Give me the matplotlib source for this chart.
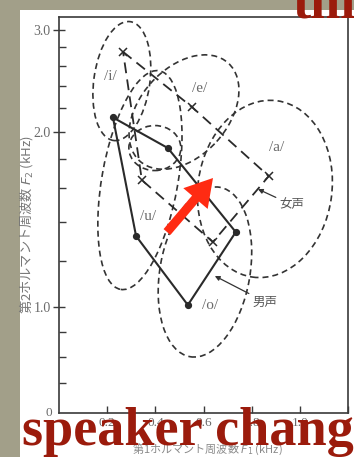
import numpy as np
import matplotlib
matplotlib.use("Agg")
import matplotlib.pyplot as plt
import matplotlib.patches as mpatches
import matplotlib.transforms as mtransforms

# ---------------- data (kHz) ----------------
vowels = ["/i/", "/e/", "/a/", "/o/", "/u/"]
male_f1 = [0.224, 0.452, 0.734, 0.535, 0.320]
male_f2 = [2.12, 1.878, 1.346, 1.008, 1.325]
female_f1 = [0.266, 0.552, 0.871, 0.639, 0.344]
female_f2 = [2.75, 2.21, 1.68, 1.294, 1.654]
poly_order = [0, 1, 2, 3, 4, 0]

label_f1 = [0.212, 0.585, 0.905, 0.627, 0.369]
label_f2 = [2.49, 2.38, 1.88, 1.008, 1.43]

# centres of the dashed distribution regions (i, e, a, o, u, extra)
region_f1 = [0.261, 0.519, 0.855, 0.606, 0.336, 0.398]
region_f2 = [2.449, 2.166, 1.597, 1.149, 1.654, 1.878]

y_major = [1.0, 2.0, 3.0]
y_major_labels = ["1.0", "2.0", "3.0"]
y_minor = [0.7, 0.8, 0.9, 1.2, 1.4, 1.6, 1.8, 2.2, 2.4, 2.6, 2.8]
x_ticks = [0.2, 0.4, 0.6, 0.8, 1.0, 1.2]
x_labels = ["0.2", "0.4", "0.6", "0.8", "1.0", ""]

female_label = "女声"
male_label = "男声"
female_note = (0.917, 1.498, 0.826, 1.596)   # text F1, F2, target F1, F2
male_note = (0.805, 1.02, 0.647, 1.131)

# ---------------- styles ----------------
# region shapes in pixels (width, height, angle)
region_shape = [(56, 120, -8), (132, 88, 48), (134, 178, -8),
                (90, 172, -10), (76, 222, -10), (52, 45, 0)]

W, H, DPI = 354, 457, 100
fig = plt.figure(figsize=(W / DPI, H / DPI), dpi=DPI)
fig.patch.set_facecolor("#a29f89")
page = mpatches.Rectangle((20 / W, 0), 1, 1 - 10 / H, transform=fig.transFigure,
                          facecolor="white", edgecolor="none", zorder=-5)
fig.patches.append(page)

ax = fig.add_axes([59 / W, 44 / H, 289 / W, 396 / H])
ax.set_facecolor("white")
ax.set_zorder(1)

LN10 = np.log(10.0)


def fwd(f):
    f = np.asarray(f, dtype=float)
    with np.errstate(divide="ignore", invalid="ignore"):
        return np.where(f >= 1, np.log10(np.maximum(f, 1e-9)), (f - 1) / LN10)


def inv(u):
    u = np.asarray(u, dtype=float)
    return np.where(u >= 0, 10 ** np.minimum(u, 10), 1 + u * LN10)


ax.set_yscale("function", functions=(fwd, inv))
ax.set_xlim(0, 1.2)
ax.set_ylim(0.58, 3.157)

ink = "#2a2a2a"
grey = "#6a6a6a"

for s in ax.spines.values():
    s.set_color("#3a3a3a")
    s.set_linewidth(1.2)

ax.set_yticks(y_major)
ax.set_yticklabels(y_major_labels)
ax.set_yticks(y_minor, minor=True)
ax.yaxis.set_minor_formatter(matplotlib.ticker.NullFormatter())
ax.set_xticks(x_ticks)
ax.set_xticklabels(x_labels)
ax.tick_params(axis="y", which="major", direction="inout", length=8, width=1,
               color="#3a3a3a", labelsize=10, labelcolor=grey, pad=2)
ax.tick_params(axis="y", which="minor", direction="in", length=5, width=1,
               color="#3a3a3a")
ax.tick_params(axis="x", which="major", direction="in", length=5, width=1,
               color="#3a3a3a", labelsize=9.5, labelcolor=grey, pad=3)
for lab in ax.get_xticklabels() + ax.get_yticklabels():
    lab.set_family("Liberation Serif")
ax.text(-0.025, 0.0, "0", transform=ax.transAxes, ha="right", va="center",
        fontsize=9.5, color=grey, family="Liberation Serif")

# dashed distribution regions
for f1, f2, (w, h, ang) in zip(region_f1, region_f2, region_shape):
    tr = fig.dpi_scale_trans + mtransforms.ScaledTranslation(f1, f2, ax.transData)
    e = mpatches.Ellipse((0, 0), w / DPI, h / DPI, angle=ang, transform=tr,
                         fill=False, edgecolor="#333333", linewidth=1.2,
                         linestyle=(0, (3.6, 2.4)), zorder=2)
    ax.add_patch(e)

# male (solid) and female (dashed) polygons
ax.plot([male_f1[i] for i in poly_order], [male_f2[i] for i in poly_order],
        color=ink, lw=1.5, zorder=3)
ax.plot(male_f1, male_f2, "o", color=ink, ms=4.2, zorder=4)
ax.plot([female_f1[i] for i in poly_order], [female_f2[i] for i in poly_order],
        color=ink, lw=1.3, linestyle=(0, (6, 3.5)), zorder=3)
ax.plot(female_f1, female_f2, "x", color=ink, ms=6, mew=1.1, zorder=4)

for name, x, y in zip(vowels, label_f1, label_f2):
    ax.text(x, y, name, ha="center", va="center", fontsize=11, color=grey,
            family="Liberation Serif", zorder=5)

for txt, note in ((female_label, female_note), (male_label, male_note)):
    ax.annotate(txt, xy=(note[2], note[3]), xytext=(note[0], note[1]),
                ha="left", va="center", fontsize=9, color="#555555",
                family=["Noto Sans CJK JP", "DejaVu Sans"],
                arrowprops=dict(arrowstyle="-|>", color="#333333", lw=0.9,
                                mutation_scale=7, shrinkA=1, shrinkB=0),
                zorder=5)

# axis titles
fig.text(26 / W, 1 - 225 / H, "第2ホルマント周波数 $F_2$ (kHz)", rotation=90,
         ha="center", va="center", fontsize=9.5, color="#777777",
         family=["Noto Sans CJK JP", "DejaVu Sans"])
fig.text(207 / W, 1 - 449 / H, "第1ホルマント周波数 $F_1$ (kHz)",
         ha="center", va="center", fontsize=8, color="#8a8a8a",
         family=["Noto Sans CJK JP", "DejaVu Sans"])

# red overlay annotation
arrow = mpatches.FancyArrow(1.67, (H - 232) / DPI, 0.46, 0.54, width=0.09,
                            head_width=0.32, head_length=0.27,
                            length_includes_head=True, transform=fig.dpi_scale_trans,
                            facecolor="#ff2b12", edgecolor="none", zorder=10)
fig.patches.append(arrow)

fig.text(22 / W, (H - 445) / H, "speaker chang", ha="left", va="baseline",
         fontsize=39, fontweight="bold", color="#9b1b0c",
         family="Liberation Serif", zorder=11)
fig.text(292 / W, (H - 17) / H, "thi", ha="left", va="baseline",
         fontsize=39, fontweight="bold", color="#9b1b0c",
         family="Liberation Serif", zorder=11)

fig.savefig("out.png", dpi=DPI, facecolor=fig.get_facecolor())
